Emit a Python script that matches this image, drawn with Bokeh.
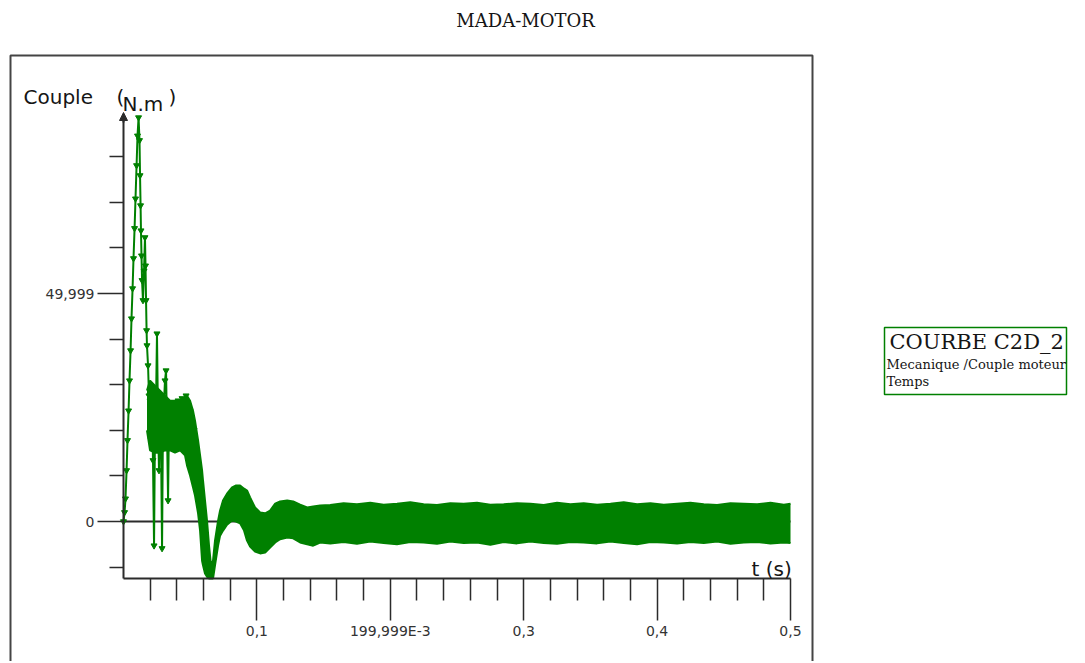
from bokeh.plotting import figure
from bokeh.models import Range1d, FixedTicker, Label, BoxAnnotation, Arrow, NormalHead
from bokeh.embed import file_html
from bokeh.resources import INLINE

# ---------------- data ----------------
title_text = "MADA-MOTOR"
y_label = "Couple"
y_unit = "N.m"
x_label = "t (s)"
legend_lines = ["COURBE C2D_2", "Mecanique /Couple moteur", "Temps"]

x_major_ticks = [0.1, 0.2, 0.3, 0.4, 0.5]
x_major_labels = ["0,1", "199,999E-3", "0,3", "0,4", "0,5"]
x_minor_ticks = [0.02, 0.04, 0.06, 0.08, 0.12, 0.14, 0.16, 0.18, 0.22, 0.24, 0.26, 0.28,
                 0.32, 0.34, 0.36, 0.38, 0.42, 0.44, 0.46, 0.48]
y_major_ticks = [0, 50]
y_major_labels = ["0", "49,999"]
y_minor_ticks = [-10, 10, 20, 30, 40, 60, 70, 80]

# start-up transient (individual samples)
trace_t = [0.0, 0.0008, 0.0015, 0.0023, 0.0030, 0.0038, 0.0045, 0.0053, 0.0060, 0.0068,
           0.0075, 0.0083, 0.0090, 0.0098, 0.0105, 0.0113, 0.0120, 0.0124, 0.0128, 0.0131,
           0.0135, 0.0139, 0.0146, 0.0154, 0.0161, 0.0165, 0.0169, 0.0173, 0.0176, 0.0184,
           0.0191, 0.0199, 0.0206, 0.0214, 0.0221, 0.0229, 0.0236, 0.0244, 0.0251, 0.0259,
           0.0266, 0.0274, 0.0281, 0.0289, 0.0296, 0.0304, 0.0311, 0.0319, 0.0326, 0.0334,
           0.0341, 0.0349, 0.0364, 0.0379, 0.0394, 0.0409, 0.0424, 0.0439, 0.0454, 0.0469,
           0.0484, 0.0499, 0.0514, 0.0529, 0.0544, 0.0559, 0.0574]
trace_v = [0.0, 2.0, 5.0, 11.2, 17.8, 24.3, 30.9, 37.5, 44.5, 51.1,
           57.7, 64.3, 70.8, 78.1, 84.6, 88.6, 83.6, 75.9, 69.3, 63.8,
           58.3, 52.9, 48.5, 55.0, 62.3, 56.1, 48.5, 41.9, 38.6, 34.2,
           27.6, 26.5, 17.8, 24.3, 13.4, -5.3, 20.0, 26.5, 41.2, 22.1,
           11.2, 26.5, 17.8, -5.9, 22.1, 26.5, 30.9, 33.1, 20.0, 4.6,
           22.1, 24.3, 20.0, 25.4, 17.8, 26.5, 18.9, 27.0, 17.8, 27.6,
           15.6, 24.3, 11.2, 20.0, 9.0, 11.2, 4.6]

# dense ripple band: envelope (upper / lower)
band_t = [0.0176, 0.0199, 0.0236, 0.0274, 0.0311, 0.0349, 0.0386, 0.0424, 0.0461, 0.0476,
          0.0499, 0.0521, 0.0536, 0.0559, 0.0574, 0.0589, 0.0596, 0.0611, 0.0626, 0.0641,
          0.0656, 0.0671, 0.0686, 0.0709, 0.0724, 0.0746, 0.0776, 0.0814, 0.0844, 0.0874,
          0.0904, 0.0926, 0.0949, 0.0986, 0.1024, 0.1062, 0.1099, 0.1137, 0.1174, 0.1227,
          0.1272, 0.1324, 0.1377, 0.1422, 0.1474,
          0.155, 0.165, 0.175, 0.185, 0.195, 0.205, 0.215, 0.225, 0.235, 0.245,
          0.255, 0.265, 0.275, 0.285, 0.295, 0.305, 0.315, 0.325, 0.335, 0.345,
          0.355, 0.365, 0.375, 0.385, 0.395, 0.405, 0.415, 0.425, 0.435, 0.445,
          0.455, 0.465, 0.475, 0.485, 0.495, 0.5]
band_upper = [28.7, 30.9, 29.8, 28.7, 27.6, 26.5, 26.5, 26.5, 27.2, 27.6,
              26.5, 24.3, 22.1, 17.8, 14.5, 11.2, 9.0, 4.6, 0.2, -5.3,
              -9.6, -8.6, -4.2, 0.2, 2.4, 4.6, 6.1, 7.5, 7.9, 7.9,
              7.2, 6.8, 5.3, 3.1, 2.0, 1.8, 2.4, 3.9, 4.4, 4.6,
              4.4, 3.7, 3.1, 3.3, 3.5,
              3.6, 4.0, 3.8, 4.1, 3.7, 3.9, 4.2, 3.8, 3.6, 4.0,
              3.9, 4.1, 3.7, 3.8, 4.0, 3.9, 3.6, 4.1, 3.8, 4.0,
              3.7, 3.9, 4.2, 3.8, 4.0, 3.7, 3.9, 4.1, 3.8, 3.6,
              4.0, 3.9, 3.8, 4.1, 3.7, 3.9]
band_lower = [20.0, 15.6, 15.1, 15.1, 15.6, 15.6, 15.1, 15.6, 14.5, 12.3,
              10.1, 7.5, 5.7, 1.8, -2.0, -8.6, -9.6, -11.4, -12.1, -12.5,
              -12.5, -12.5, -9.6, -5.3, -3.1, -2.0, -0.7, 0.2, 0.0, -0.4,
              -2.0, -4.2, -5.5, -6.6, -7.0, -6.8, -5.7, -4.6, -3.9, -3.5,
              -3.7, -4.6, -5.0, -5.3, -4.6,
              -4.8, -4.5, -4.9, -4.4, -4.7, -5.0, -4.5, -4.6, -4.9, -4.4,
              -4.7, -4.6, -5.1, -4.5, -4.8, -4.4, -4.7, -4.9, -4.5, -4.6,
              -4.8, -4.4, -4.7, -5.0, -4.5, -4.6, -4.8, -4.5, -4.7, -4.4,
              -4.9, -4.6, -4.5, -4.8, -4.6, -4.7]

# ---------------- figure ----------------
W, H = 1083, 661
GREEN = "#008000"
INK = "#2b2b2b"
PX_PER_S = 1334.0      # horizontal scale (pixels per second)
PX_PER_NM = 4.559      # vertical scale (pixels per N.m)
X0_PX, Y0_PX = 123.0, 521.0   # pixel position of t=0 / torque=0

p = figure(width=W, height=H, output_backend="svg", toolbar_location=None,
           x_range=Range1d(-X0_PX / PX_PER_S, (W - X0_PX) / PX_PER_S),
           y_range=Range1d((Y0_PX - H) / PX_PER_NM, Y0_PX / PX_PER_NM),
           min_border=0, min_border_left=0, min_border_right=0,
           min_border_top=0, min_border_bottom=0, title=None)
p.outline_line_color = None
p.grid.visible = False
p.background_fill_color = "white"
p.border_fill_color = "white"

# page pixel -> data helpers (for placing the annotations only)
def sx(px):
    return (px - X0_PX) / PX_PER_S

def sy(py):
    return (Y0_PX - py) / PX_PER_NM

y_bottom = -12.5
y_top = sy(118)

# axes drawn inside the frame
xa = p.xaxis[0]
xa.fixed_location = y_bottom
xa.bounds = (0, x_major_ticks[-1])
xa.ticker = FixedTicker(ticks=x_major_ticks, minor_ticks=x_minor_ticks)
xa.major_label_overrides = {t: l for t, l in zip(x_major_ticks, x_major_labels)}
xa.major_tick_out = 42
xa.major_tick_in = 0
xa.minor_tick_out = 22
xa.minor_tick_in = 0
xa.major_label_standoff = 3

ya = p.yaxis[0]
ya.fixed_location = 0
ya.bounds = (y_bottom, y_top)
ya.ticker = FixedTicker(ticks=y_major_ticks, minor_ticks=y_minor_ticks)
ya.major_label_overrides = {t: l for t, l in zip(y_major_ticks, y_major_labels)}
ya.major_tick_out = 26
ya.major_tick_in = 0
ya.minor_tick_out = 14
ya.minor_tick_in = 0
ya.major_label_standoff = 3
ya.major_label_orientation = "horizontal"

for a in (xa, ya):
    a.axis_line_color = INK
    a.axis_line_width = 2
    a.major_tick_line_color = INK
    a.major_tick_line_width = 1.5
    a.minor_tick_line_color = INK
    a.minor_tick_line_width = 1.5
    a.major_label_text_font = "DejaVu Sans"
    a.major_label_text_font_size = "14px"
    a.major_label_text_color = "#333333"

# zero reference line
p.segment(x0=[0], y0=[0], x1=[x_major_ticks[-1]], y1=[0], line_color=INK, line_width=2)

# signal
p.varea(x=band_t, y1=band_lower, y2=band_upper, fill_color=GREEN)
p.line(band_t, band_upper, line_color=GREEN, line_width=2)
p.line(band_t, band_lower, line_color=GREEN, line_width=2)
p.line(trace_t, trace_v, line_color=GREEN, line_width=2)
p.scatter(trace_t, trace_v, marker="inverted_triangle", size=6, fill_color=GREEN, line_color=GREEN)

# y-axis arrow head
p.add_layout(Arrow(end=NormalHead(size=8, fill_color=INK, line_color=INK),
                   x_start=0, y_start=sy(122), x_end=0, y_end=sy(112),
                   line_color=INK, line_width=2))

# outer frame and legend box
p.add_layout(BoxAnnotation(left=sx(10), right=sx(812), top=sy(55), bottom=sy(720),
                           fill_alpha=0, line_color="#444444", line_alpha=1.0, line_width=2))
p.add_layout(BoxAnnotation(left=sx(884), right=sx(1066), top=sy(327), bottom=sy(394),
                           fill_alpha=0, line_color=GREEN, line_alpha=1.0, line_width=1.5))

# texts
def lab(x, y, text, font, size, align="left"):
    p.add_layout(Label(x=sx(x), y=sy(y), text=text, text_align=align, text_baseline="middle",
                       text_font=font, text_font_size=size, text_color="#151515"))

lab(525, 20, title_text, "DejaVu Serif", "18px", "center")
lab(23, 96, y_label, "DejaVu Sans", "20px")
lab(116, 96, "(", "DejaVu Sans", "20px")
lab(122, 103, y_unit, "DejaVu Sans", "20px")
lab(168, 96, ")", "DejaVu Sans", "20px")
lab(751, 568, x_label, "DejaVu Sans", "20px")
lab(889, 341, legend_lines[0], "DejaVu Serif", "21px")
lab(886, 364, legend_lines[1], "DejaVu Serif", "13px")
lab(886, 381, legend_lines[2], "DejaVu Serif", "13px")

open("out.html", "w").write(file_html(p, INLINE))
